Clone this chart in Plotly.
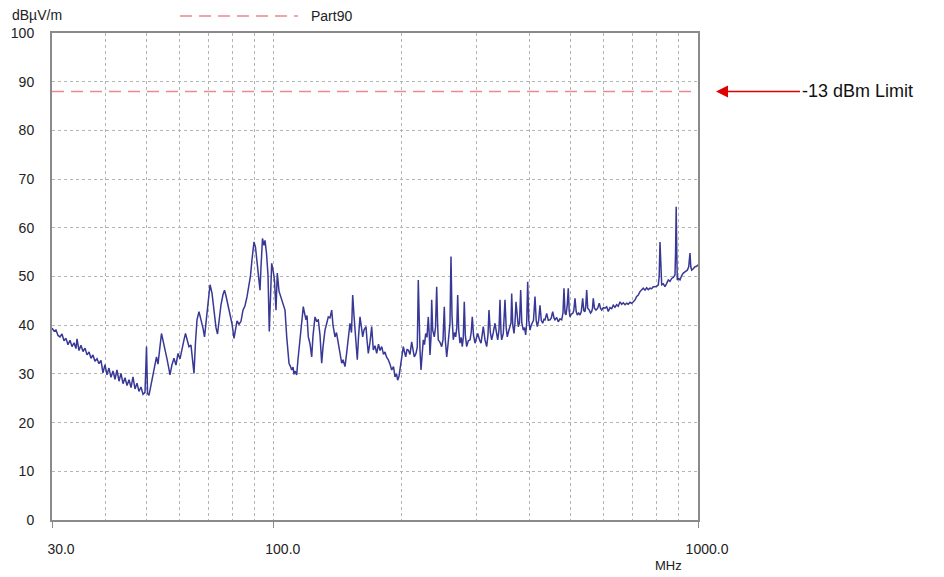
import plotly.graph_objects as go

# Measured emission trace (frequency in MHz, level in dBuV/m)
freq_mhz = [
    30.00, 30.33, 30.66, 30.99, 31.33, 31.67, 32.02, 32.37, 32.72, 33.08,
    33.44, 33.81, 34.17, 34.36, 34.74, 35.11, 35.50, 35.89, 36.28, 36.68,
    37.08, 37.47, 37.88, 38.30, 38.71, 39.14, 39.56, 40.00, 40.43, 40.87,
    41.32, 41.78, 42.23, 42.69, 43.16, 43.63, 44.11, 44.59, 45.08, 45.57,
    46.07, 46.56, 47.07, 47.59, 48.10, 48.63, 49.17, 49.70, 50.11, 50.39,
    50.79, 51.35, 51.90, 52.47, 52.90, 53.33, 53.91, 54.35, 54.80, 55.39,
    56.00, 56.61, 56.92, 57.54, 58.17, 58.80, 59.45, 60.10, 60.75, 61.41,
    61.92, 62.42, 63.10, 63.79, 64.49, 64.84, 65.37, 65.91, 66.62, 67.35,
    68.09, 68.65, 69.21, 69.96, 70.73, 71.50, 72.28, 73.07, 73.67, 74.27,
    75.08, 75.90, 76.52, 77.15, 77.99, 78.84, 79.70, 80.57, 81.23, 81.89,
    82.79, 83.69, 84.60, 85.52, 86.46, 87.40, 88.12, 88.84, 89.81, 90.54,
    91.28, 92.03, 92.78, 93.29, 94.05, 94.81, 95.33, 96.11, 96.90, 97.58,
    98.22, 98.86, 99.72, 100.37, 101.19, 101.91, 102.86, 103.70, 104.55, 105.40,
    106.27, 107.26, 108.01, 108.60, 109.49, 110.20, 110.98, 111.59, 112.19, 113.23,
    114.04, 115.28, 116.22, 117.36, 118.13, 119.10, 119.75, 120.59, 121.71, 122.84,
    123.71, 125.06, 126.08, 127.32, 128.50, 129.69, 130.61, 132.03, 133.11, 134.42,
    135.67, 136.93, 137.89, 139.39, 140.53, 141.91, 143.23, 144.56, 145.58, 147.17,
    148.37, 149.82, 151.22, 152.45, 153.45, 154.54, 155.38, 156.23, 157.34, 158.36,
    159.66, 160.97, 162.01, 163.16, 164.94, 165.84, 167.02, 168.57, 170.12, 171.61,
    173.20, 174.80, 176.52, 177.97, 179.62, 181.38, 182.86, 184.36, 186.17, 187.90,
    189.64, 191.49, 193.06, 194.64, 195.90, 197.30, 198.37, 200.00, 201.96, 203.28,
    204.61, 206.06, 207.52, 209.44, 211.38, 212.87, 214.38, 216.37, 217.90, 219.09,
    220.28, 221.12, 222.32, 223.89, 225.11, 226.58, 228.07, 229.68, 231.31, 232.57,
    233.45, 234.72, 235.62, 236.90, 238.97, 240.53, 242.10, 243.36, 244.20, 246.48,
    248.77, 250.53, 252.30, 253.67, 255.61, 257.42, 258.82, 260.23, 261.64, 263.06,
    264.92, 266.65, 268.40, 269.99, 271.33, 272.81, 274.74, 276.54, 278.19, 279.71,
    281.23, 282.76, 284.92, 287.41, 290.07, 291.97, 293.71, 295.63, 298.04, 300.48,
    302.45, 305.42, 307.91, 309.92, 311.77, 314.66, 317.58, 319.83, 321.57, 323.86,
    326.33, 329.17, 332.22, 334.94, 337.13, 339.51, 341.36, 343.22, 344.53, 347.53,
    350.76, 353.05, 355.16, 357.87, 360.41, 362.37, 363.75, 365.92, 368.31, 370.31,
    372.33, 374.77, 377.00, 379.47, 381.95, 384.24, 387.37, 389.91, 392.46, 394.60,
    396.75, 399.12, 401.73, 404.36, 406.77, 409.43, 412.78, 415.47, 417.97, 421.16,
    424.14, 427.15, 430.40, 433.45, 435.81, 439.85, 443.69, 447.81, 450.98, 454.40,
    457.62, 460.11, 464.38, 468.43, 472.78, 477.16, 480.53, 483.14, 485.77, 488.42,
    491.61, 494.56, 496.98, 499.15, 502.68, 506.51, 509.55, 512.88, 516.23, 519.32,
    523.29, 527.00, 530.73, 534.77, 537.97, 541.49, 543.85, 546.51, 549.49, 554.27,
    557.90, 561.54, 563.98, 566.43, 570.13, 574.80, 580.13, 585.19, 589.02, 592.87,
    598.02, 603.57, 609.17, 614.49, 620.19, 625.93, 631.39, 637.24, 643.16, 648.77,
    654.79, 660.85, 666.61, 672.79, 679.03, 684.88, 691.31, 697.71, 703.79, 710.32,
    716.91, 723.17, 729.87, 736.63, 743.05, 749.94, 756.90, 763.43, 770.59, 777.74,
    784.49, 791.77, 799.11, 806.00, 810.04, 813.57, 817.15, 821.12, 828.25, 835.93,
    843.69, 851.04, 858.95, 866.90, 874.46, 882.57, 885.45, 888.35, 891.24, 893.66,
    900.49, 906.86, 915.27, 923.24, 933.33, 943.56, 950.76, 953.86, 957.48, 961.65,
    966.35, 974.74, 983.78, 992.92, 1000.00,
]

level_dbuv = [
    39.4, 38.8, 39.0, 37.9, 37.6, 38.2, 36.8, 37.3, 36.0, 36.9,
    35.6, 36.4, 35.2, 37.2, 34.8, 35.9, 34.6, 35.3, 33.9, 34.5,
    33.2, 33.9, 32.6, 33.1, 32.1, 32.8, 30.2, 31.9, 29.8, 31.2,
    29.3, 30.6, 28.9, 30.8, 28.5, 30.1, 28.0, 29.2, 27.6, 28.8,
    27.2, 29.4, 26.9, 28.1, 26.4, 27.3, 25.8, 26.2, 35.6, 26.0,
    25.6, 27.8, 29.5, 31.6, 33.5, 32.0, 35.8, 38.3, 36.9, 35.2,
    33.1, 31.0, 29.8, 31.9, 33.2, 31.8, 34.2, 33.1, 35.3, 37.0,
    38.3, 37.1, 35.6, 35.9, 31.5, 30.1, 36.5, 41.1, 42.8, 41.3,
    39.4, 37.6, 40.2, 44.5, 48.3, 46.6, 43.0, 39.5, 38.2, 41.0,
    44.2, 46.3, 47.2, 46.0, 44.2, 42.0, 40.3, 37.3, 39.6, 40.9,
    40.2, 40.8, 43.1, 44.0, 45.8, 48.2, 50.2, 53.5, 57.1, 56.0,
    53.4, 51.0, 47.2, 52.0, 57.8, 56.4, 57.4, 54.8, 50.3, 38.7,
    48.5, 52.7, 51.0, 49.2, 43.1, 50.7, 47.0, 45.9, 44.8, 44.0,
    43.1, 37.6, 34.0, 32.2, 31.5, 30.8, 31.4, 29.9, 30.6, 29.8,
    33.0, 37.6, 40.5, 43.8, 42.5, 41.1, 42.0, 37.6, 36.2, 33.5,
    37.8, 41.7, 40.9, 41.1, 38.0, 32.2, 35.5, 39.0, 40.2, 41.7,
    41.5, 43.1, 40.0, 37.6, 38.5, 36.3, 35.0, 32.2, 32.9, 31.5,
    34.0, 37.0, 40.4, 38.5, 46.2, 42.0, 39.7, 36.0, 32.9, 37.5,
    41.7, 39.5, 37.6, 39.0, 39.7, 37.0, 34.2, 36.5, 39.7, 34.9,
    35.8, 34.2, 36.1, 34.8, 35.6, 34.0, 34.5, 33.5, 32.9, 32.0,
    30.8, 31.5, 29.4, 30.0, 28.7, 29.5, 30.8, 32.5, 35.6, 34.5,
    33.5, 35.0, 34.9, 34.0, 36.6, 35.0, 33.5, 34.2, 35.5, 49.3,
    36.0, 34.9, 30.8, 35.5, 37.0, 36.0, 38.3, 37.5, 41.7, 38.0,
    33.9, 37.5, 45.2, 39.0, 37.6, 39.5, 47.9, 40.0, 37.0, 36.5,
    35.6, 37.0, 43.8, 37.0, 33.5, 36.0, 38.3, 40.5, 54.1, 42.0,
    37.0, 38.5, 37.6, 39.5, 46.2, 39.0, 36.3, 37.5, 35.6, 37.5,
    44.8, 38.0, 35.6, 36.8, 37.0, 38.5, 41.7, 38.0, 36.3, 37.5,
    38.3, 37.0, 36.3, 38.0, 39.7, 37.0, 35.6, 38.0, 43.1, 38.5,
    37.0, 38.5, 40.4, 38.5, 37.0, 39.0, 45.2, 38.5, 37.0, 38.3,
    45.2, 39.5, 37.6, 38.8, 39.7, 40.5, 46.5, 40.0, 38.3, 40.5,
    44.8, 41.0, 39.7, 40.5, 47.2, 40.5, 39.0, 39.5, 38.0, 40.5,
    48.9, 41.0, 39.0, 40.0, 40.4, 41.0, 45.9, 41.0, 39.7, 41.0,
    44.1, 41.0, 40.4, 41.2, 41.1, 42.4, 41.0, 41.1, 41.5, 42.8,
    41.5, 41.1, 41.6, 40.7, 41.3, 41.1, 42.5, 47.6, 42.5, 42.1,
    44.0, 47.6, 43.0, 41.7, 42.3, 42.4, 43.0, 45.5, 42.8, 42.1,
    42.5, 42.1, 42.8, 45.5, 43.0, 42.8, 44.0, 47.2, 43.5, 43.1,
    42.5, 42.8, 43.5, 45.5, 43.5, 43.1, 43.5, 44.5, 43.5, 43.1,
    43.6, 43.5, 43.8, 42.8, 43.6, 43.4, 44.1, 43.7, 44.2, 43.9,
    44.8, 44.3, 44.6, 44.2, 44.5, 44.3, 44.7, 44.5, 44.8, 45.2,
    45.9, 46.2, 46.9, 47.3, 47.6, 47.2, 47.7, 47.3, 47.6, 47.5,
    47.9, 47.9, 48.0, 48.3, 50.0, 57.1, 50.0, 48.3, 48.5, 47.9,
    48.6, 49.3, 49.0, 49.6, 49.8, 50.3, 55.0, 64.3, 55.0, 49.3,
    49.6, 49.3, 50.2, 50.7, 51.0, 51.3, 52.0, 53.5, 54.8, 52.0,
    51.3, 51.6, 52.0, 52.1, 52.4,
]

# Part 90 limit line (-13 dBm)
limit_freq = [30, 1000]
limit_level = [88, 88]

x_tick_vals = [30, 100, 1000]
x_tick_text = ["30.0", "100.0", "1000.0"]
x_grid_vals = [40, 50, 60, 70, 80, 90, 200, 300, 400, 500, 600, 700, 800, 900]
y_tick_vals = [0, 10, 20, 30, 40, 50, 60, 70, 80, 90, 100]

FONT = "Arial, Liberation Sans, sans-serif"
GRID = "#b4b4b4"
AXIS = "#8a8a8a"
LIMIT_COLOR = "#ec8890"
TXT = "#222222"

# Page has an 8px body margin; figure is sized so the plot lands where the reference has it.
W, H = 936, 569
ML, MT, PW, PH = 44, 25, 646, 487


def px(xp):
    return (xp - 8 - ML) / PW


def py(yp):
    return (MT + PH - (yp - 8)) / PH


fig = go.Figure()
fig.add_trace(go.Scatter(
    x=limit_freq, y=limit_level, mode="lines", name="Part90",
    line=dict(color=LIMIT_COLOR, width=1.4, dash="12px,7px"),
    showlegend=False, hoverinfo="skip",
))
fig.add_trace(go.Scatter(
    x=freq_mhz, y=level_dbuv, mode="lines",
    line=dict(color="#383896", width=1.5),
    showlegend=False,
))

fig.update_layout(
    width=W, height=H,
    margin=dict(l=ML, r=W - ML - PW, t=MT, b=H - MT - PH, autoexpand=False),
    paper_bgcolor="white", plot_bgcolor="white",
    font=dict(family=FONT, size=14, color=TXT),
    showlegend=False,
    xaxis=dict(
        type="log", range=[1.4771213, 3.0],
        tickmode="array", tickvals=x_tick_vals, ticktext=x_tick_text,
        ticks="outside", ticklen=6, tickcolor=AXIS, tickwidth=1,
        ticklabelstandoff=9, ticklabelshift=9,
        showgrid=True, gridcolor=GRID, griddash="dot", gridwidth=1,
        minor=dict(tickmode="array", tickvals=x_grid_vals, showgrid=True,
                   gridcolor=GRID, griddash="dot", gridwidth=1, ticks=""),
        showline=True, linecolor=AXIS, linewidth=2, mirror=True,
        zeroline=False,
        tickfont=dict(size=14, family=FONT, color=TXT),
    ),
    yaxis=dict(
        range=[0, 100], tickmode="array", tickvals=y_tick_vals,
        ticks="", ticklabelstandoff=13,
        showgrid=True, gridcolor=GRID, griddash="dot", gridwidth=1,
        showline=True, linecolor=AXIS, linewidth=2, mirror=True,
        zeroline=False,
        tickfont=dict(size=14, family=FONT, color=TXT),
    ),
)

# Legend sample (dashed line + label) at the top
fig.add_shape(type="line", xref="paper", yref="paper",
              x0=px(180), x1=px(298), y0=py(16), y1=py(16),
              line=dict(color=LIMIT_COLOR, width=1.4, dash="12px,7px"))
fig.add_annotation(text="Part90", xref="paper", yref="paper",
                   x=px(309), y=py(16),
                   xanchor="left", yanchor="middle", showarrow=False,
                   font=dict(size=14, family=FONT, color=TXT))

# Axis unit labels
fig.add_annotation(text="dBµV/m", xref="paper", yref="paper",
                   x=px(10), y=py(15),
                   xanchor="left", yanchor="middle", showarrow=False,
                   font=dict(size=14, family=FONT, color=TXT))
fig.add_annotation(text="MHz", xref="paper", yref="paper",
                   x=px(668), y=py(565),
                   xanchor="center", yanchor="middle", showarrow=False,
                   font=dict(size=13, family=FONT, color=TXT))

# Limit callout with arrow
fig.add_annotation(text="-13 dBm Limit", xref="paper", yref="y",
                   x=px(716), y=88,
                   ax=84, ay=0, axref="pixel", ayref="pixel",
                   xanchor="left", yanchor="middle",
                   showarrow=True, arrowhead=2, arrowsize=1.6,
                   arrowwidth=1.5, arrowcolor="#e00000",
                   font=dict(size=18, family=FONT, color="#111111"))

fig.write_html("out.html")
